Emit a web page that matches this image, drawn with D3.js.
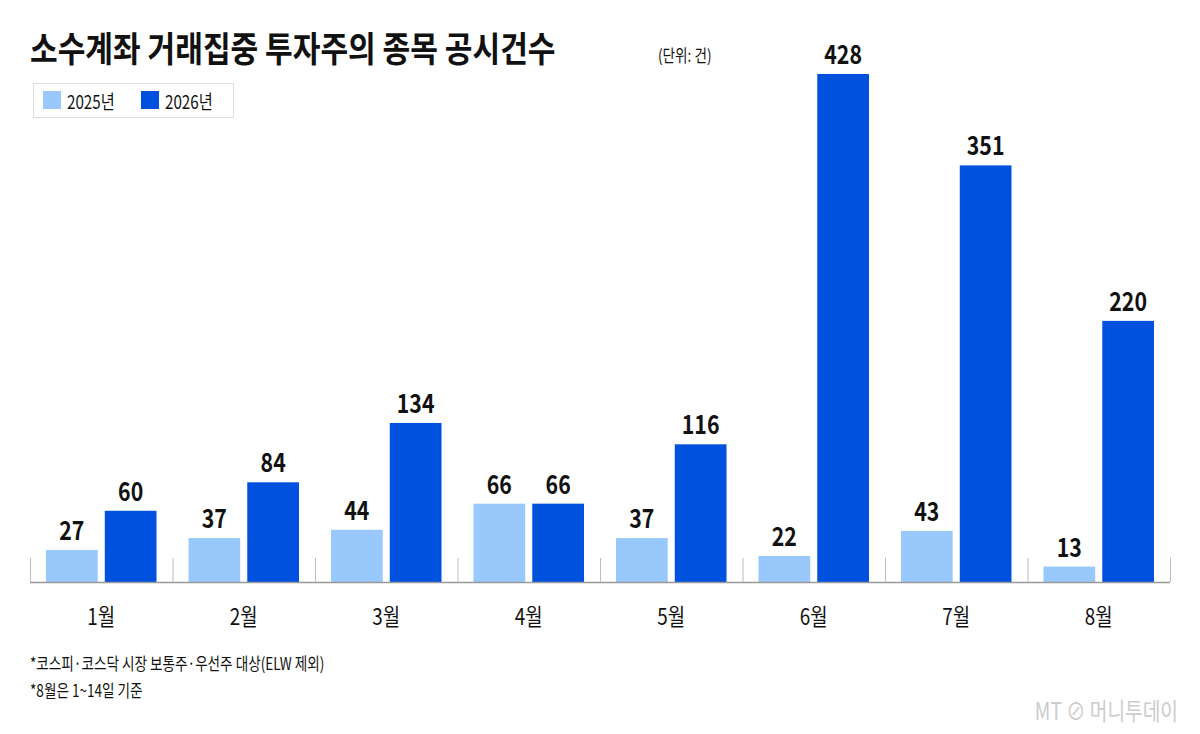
<!DOCTYPE html>
<meta charset="utf-8">
<script src="https://d3js.org/d3.v7.min.js"></script>
<style>
  body { margin: 0; background: #fff; }
  text { font-family: "Noto Sans CJK KR", sans-serif; }
</style>
<svg id="chart" width="1200" height="734"></svg>
<script>
// Data
var months = ["1월", "2월", "3월", "4월", "5월", "6월", "7월", "8월"];
var series = ["2025년", "2026년"];
var values2025 = [27, 37, 44, 66, 37, 22, 43, 13];
var values2026 = [60, 84, 134, 66, 116, 428, 351, 220];
var colors = ["#99c9fc", "#0051dd"];

var svg = d3.select("#chart");
var baseY = 582;

// condensed text helper
function ctext(x, y, str, size, weight, anchor, fill, sx) {
  sx = sx || 0.82;
  return svg.append("text")
    .attr("transform", "translate(" + x + "," + y + ") scale(" + sx + ",1)")
    .attr("text-anchor", anchor || "start")
    .attr("font-size", size)
    .attr("font-weight", weight)
    .attr("fill", fill || "#111")
    .text(str);
}

// Scales
var x0 = d3.scaleBand().domain(months).range([30, 1170]).paddingInner(0).paddingOuter(0);
var x1 = d3.scaleBand().domain(series).range([16, x0.bandwidth() - 16]).paddingInner(0.12);
var y = d3.scaleLinear().domain([0, 428]).range([baseY, 74]);

var rows = months.map(function(m, i) {
  return { month: m, vals: [values2025[i], values2026[i]] };
});

var g = svg.selectAll("g.grp").data(rows).enter().append("g")
  .attr("transform", function(d) { return "translate(" + x0(d.month) + ",0)"; });

g.selectAll("rect").data(function(d) { return d.vals; }).enter().append("rect")
  .attr("x", function(d, i) { return x1(series[i]); })
  .attr("width", x1.bandwidth())
  .attr("y", function(d) { return y(d); })
  .attr("height", function(d) { return baseY - y(d); })
  .attr("fill", function(d, i) { return colors[i]; });

g.selectAll("text.val").data(function(d) { return d.vals; }).enter().append("text")
  .attr("class", "val")
  .attr("transform", function(d, i) {
    return "translate(" + (x1(series[i]) + x1.bandwidth() / 2) + "," + (y(d) - 10) + ") scale(0.82,1)";
  })
  .attr("text-anchor", "middle")
  .attr("font-size", 26)
  .attr("font-weight", "bold")
  .attr("fill", "#111")
  .text(function(d) { return d; });

// Axis
svg.append("line").attr("x1", 30).attr("x2", 1170).attr("y1", baseY + 0.5).attr("y2", baseY + 0.5)
  .attr("stroke", "#999").attr("stroke-width", 1.5);
svg.selectAll("line.tick").data(months.concat(["end"])).enter().append("line")
  .attr("x1", function(d, i) { return 30 + i * x0.bandwidth() + 0.5; })
  .attr("x2", function(d, i) { return 30 + i * x0.bandwidth() + 0.5; })
  .attr("y1", baseY - 24).attr("y2", baseY)
  .attr("stroke", "#bbb").attr("stroke-width", 1);

months.forEach(function(m) {
  ctext(x0(m) + x0.bandwidth() / 2, 625, m, 23, "normal", "middle", "#111");
});

// Title
ctext(30, 62, "소수계좌 거래집중 투자주의 종목 공시건수", 35, "bold", "start", "#111", 0.86);
ctext(658, 62, "(단위: 건)", 17, "normal", "start", "#111", 0.8);

// Legend
svg.append("rect").attr("x", 33.5).attr("y", 83.5).attr("width", 200).attr("height", 34)
  .attr("fill", "#fff").attr("stroke", "#ddd");
series.forEach(function(s, i) {
  var lx = 43 + i * 98;
  svg.append("rect").attr("x", lx).attr("y", 91).attr("width", 18).attr("height", 18).attr("fill", colors[i]);
  ctext(lx + 24, 109, s, 19, "normal", "start", "#111", 0.8);
});

// Notes
ctext(30, 670, "*코스피·코스닥 시장 보통주·우선주 대상(ELW 제외)", 17, "normal", "start", "#111", 0.8);
ctext(30, 697, "*8월은 1~14일 기준", 17, "normal", "start", "#111", 0.8);

// Watermark
ctext(1178, 720, "MT ⊘ 머니투데이", 24, "normal", "end", "#ccc", 0.8);
</script>
